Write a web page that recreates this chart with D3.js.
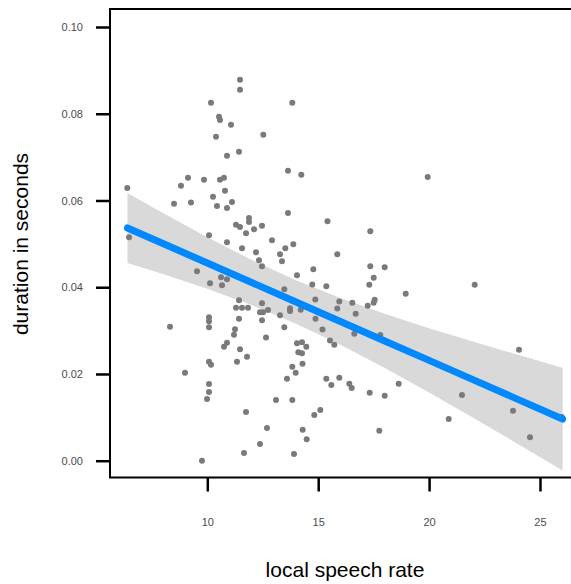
<!DOCTYPE html>
<html>
<head>
<meta charset="utf-8">
<script src="https://cdn.jsdelivr.net/npm/d3@7"></script>
<style>
  html, body { margin: 0; padding: 0; background: #fff; }
  svg { display: block; font-family: "Liberation Sans", Arial, sans-serif; }
</style>
</head>
<body>
<svg id="chart" width="571" height="584"></svg>
<script>
// ---- data ----
const speechRate = [6.393,6.470,8.814,9.130,8.499,9.265,8.318,8.994,11.475,11.475,10.167,13.832,10.528,10.573,11.069,10.392,12.525,11.429,10.888,13.638,14.238,9.851,10.573,10.753,10.798,10.257,10.437,10.888,11.114,13.638,15.419,11.294,11.475,11.880,11.880,12.466,12.106,11.745,10.077,10.888,12.917,11.565,13.877,13.517,12.196,13.278,12.331,13.368,12.466,9.536,14.044,14.779,10.618,10.888,10.122,10.663,14.734,15.365,13.472,11.429,14.869,12.466,11.294,11.565,11.835,13.729,13.729,14.211,12.376,12.511,12.737,13.278,14.878,11.429,12.466,10.077,10.077,10.077,13.472,15.194,11.249,11.204,12.647,15.532,15.726,10.888,10.753,11.475,14.044,14.269,14.463,14.103,14.269,11.790,11.339,10.077,10.167,14.292,13.832,13.986,13.593,10.077,15.365,15.591,15.951,16.402,16.510,17.322,17.998,18.629,21.483,23.783,20.884,14.824,15.095,14.301,17.755,24.549,14.481,19.937,17.349,15.861,17.349,17.998,17.502,17.304,22.056,18.945,17.547,17.502,17.232,16.538,15.951,15.861,16.690,16.627,17.800,24.053,10.077,9.987,11.745,13.098,13.832,12.692,12.376,11.655,13.909,9.761,25.98];
const duration = [0.06288,0.05151,0.06341,0.06525,0.05926,0.05954,0.03090,0.02029,0.08785,0.08555,0.08255,0.08255,0.07932,0.07856,0.07747,0.07471,0.07517,0.07125,0.07033,0.06687,0.06595,0.06479,0.06479,0.06525,0.06226,0.06087,0.05873,0.05827,0.05965,0.05712,0.05520,0.05442,0.05389,0.05596,0.05504,0.05419,0.05336,0.05243,0.05197,0.05036,0.05082,0.04898,0.04990,0.04898,0.04805,0.04759,0.04621,0.04598,0.04482,0.04367,0.04275,0.04413,0.04229,0.04183,0.04090,0.04044,0.04063,0.04021,0.03952,0.03699,0.03717,0.03629,0.03528,0.03528,0.03528,0.03514,0.03454,0.03479,0.03422,0.03422,0.03475,0.03353,0.03274,0.03274,0.03237,0.03307,0.03214,0.03076,0.03076,0.03025,0.03030,0.02905,0.02841,0.02772,0.02675,0.02721,0.02629,0.02569,0.02707,0.02730,0.02629,0.02500,0.02476,0.02398,0.02283,0.02283,0.02214,0.02237,0.02167,0.02029,0.01891,0.01769,0.01891,0.01745,0.01914,0.01775,0.01676,0.01568,0.01499,0.01775,0.01515,0.01153,0.00962,0.01054,0.01169,0.00715,0.00692,0.00540,0.00493,0.06542,0.05290,0.04759,0.04482,0.04459,0.04220,0.04058,0.04058,0.03851,0.03712,0.03643,0.03574,0.03643,0.03671,0.03509,0.03390,0.02928,0.02898,0.02559,0.01584,0.01423,0.01123,0.01400,0.01400,0.00754,0.00385,0.00178,0.00154,0.00000,0.0101];

const fitX   = [6.4, 8, 10, 12, 14, 16, 18, 20, 22, 24, 26.02];
const fitY   = [0.05366,0.05007,0.04558,0.04109,0.03660,0.03211,0.02762,0.02313,0.01864,0.01415,0.00961];
const bandLo = [0.04559,0.04304,0.03964,0.03588,0.03159,0.02672,0.02136,0.01570,0.00984,0.00387,-0.00223];
const bandHi = [0.06173,0.05710,0.05152,0.04630,0.04161,0.03750,0.03388,0.03056,0.02744,0.02443,0.02145];

const xTicks = [10, 15, 20, 25];
const yTicks = [0, 0.02, 0.04, 0.06, 0.08, 0.10];
const xTitle = "local speech rate";
const yTitle = "duration in seconds";

// ---- layout ----
const svg = d3.select("#chart");
const L = 110, R = 571, T = 9, B = 477.5;

const x = d3.scaleLinear().domain([5.6132, 26.398]).range([L, R]);
const y = d3.scaleLinear().domain([-0.00387, 0.10415]).range([B, T]);

const g = svg.append("g");

// band
const band = fitX.map((v, i) => ({x: v, lo: bandLo[i], hi: bandHi[i], f: fitY[i]}));
g.append("path")
  .datum(band)
  .attr("d", d3.area().x(d => x(d.x)).y0(d => y(d.lo)).y1(d => y(d.hi)))
  .attr("fill", "#d9d9d9");

// points
const pts = speechRate.map((v, i) => ({x: v, y: duration[i]}));
g.append("g").selectAll("circle")
  .data(pts).join("circle")
  .attr("cx", d => x(d.x))
  .attr("cy", d => y(d.y))
  .attr("r", 3)
  .attr("fill", "#7a7a7a");

// fit line
g.append("path")
  .datum(band)
  .attr("d", d3.line().x(d => x(d.x)).y(d => y(d.f)))
  .attr("fill", "none")
  .attr("stroke", "#0088ff")
  .attr("stroke-width", 7)
  .attr("stroke-linecap", "round");

// panel border (right side runs off the picture)
svg.append("path")
  .attr("d", `M${R + 5},${T}H${L}V${B}H${R + 5}`)
  .attr("fill", "none")
  .attr("stroke", "#000")
  .attr("stroke-width", 2);

// axes
const yAxis = svg.append("g")
  .attr("transform", `translate(${L},0)`)
  .call(d3.axisLeft(y).tickValues(yTicks).tickFormat(d3.format(".2f")).tickSize(14).tickPadding(13));
const xAxis = svg.append("g")
  .attr("transform", `translate(0,${B})`)
  .call(d3.axisBottom(x).tickValues(xTicks).tickFormat(d3.format("d")).tickSize(14).tickPadding(27));

[yAxis, xAxis].forEach(a => {
  a.select(".domain").remove();
  a.selectAll(".tick line").attr("stroke", "#000").attr("stroke-width", 2.5);
  a.selectAll(".tick text")
    .attr("fill", "#4d4d4d")
    .style("font-size", "11px")
    .style("font-family", "'Liberation Sans', Arial, sans-serif");
});

// titles
svg.append("text")
  .attr("x", 345).attr("y", 577)
  .attr("text-anchor", "middle")
  .style("font-size", "21px")
  .attr("fill", "#000")
  .text(xTitle);

svg.append("text")
  .attr("transform", "translate(28,244) rotate(-90)")
  .attr("text-anchor", "middle")
  .style("font-size", "21px")
  .attr("fill", "#000")
  .text(yTitle);
</script>
</body>
</html>
